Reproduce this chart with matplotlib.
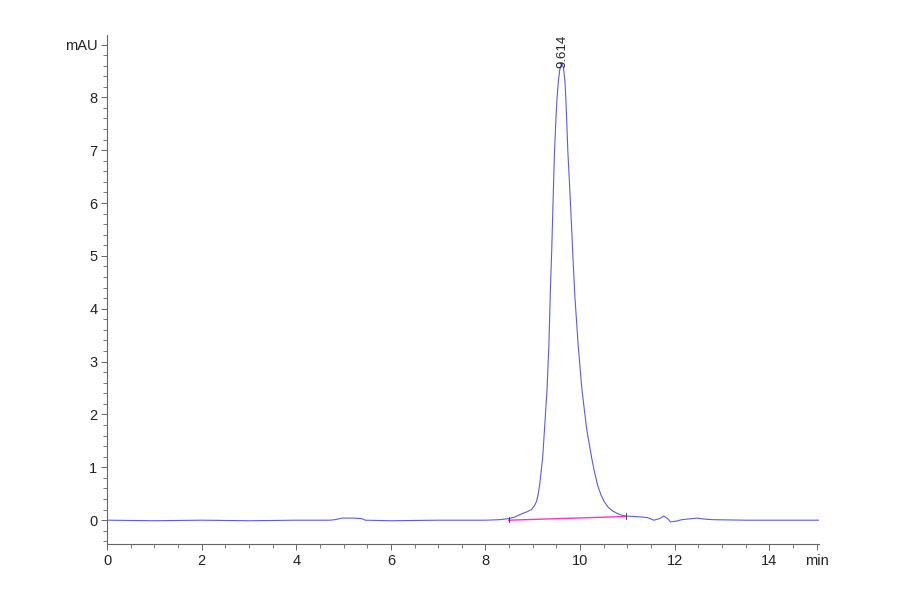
import matplotlib
matplotlib.use("Agg")
import matplotlib.pyplot as plt
from matplotlib.ticker import MultipleLocator, FixedLocator

plt.rcParams['font.family'] = ['Liberation Sans Narrow', 'Liberation Sans', 'DejaVu Sans']

# chromatogram trace (min, mAU)
time = [0.0, 1.0, 2.0, 3.0, 4.0, 4.7, 4.82, 4.97, 5.2, 5.38, 5.46, 6.0, 7.0, 8.0,
        8.3, 8.49, 8.62, 8.76, 8.88, 8.97, 9.04, 9.08, 9.11, 9.15, 9.18, 9.21, 9.25, 9.30,
        9.34, 9.37, 9.40, 9.42, 9.44, 9.46, 9.49, 9.51, 9.54, 9.57, 9.614, 9.65,
        9.68, 9.70, 9.72, 9.74, 9.78, 9.81, 9.85, 9.89, 9.96, 10.04, 10.14, 10.24,
        10.30, 10.37, 10.44, 10.51, 10.59, 10.68, 10.78, 10.86, 10.96, 11.14, 11.30,
        11.42, 11.56, 11.68, 11.77, 11.85, 11.91, 12.02, 12.15, 12.26, 12.47, 12.64,
        12.8, 13.5, 14.0, 15.05]
signal = [0.0, -0.01, 0.0, -0.01, 0.0, 0.0, 0.01, 0.04, 0.04, 0.03, 0.0, -0.01, 0.0, 0.0,
          0.01, 0.03, 0.06, 0.12, 0.16, 0.20, 0.28, 0.36, 0.47, 0.70, 0.95, 1.20, 1.75, 2.46,
          3.30, 4.30, 5.10, 5.74, 6.40, 7.00, 7.60, 7.95, 8.30, 8.52, 8.65, 8.55,
          8.30, 7.95, 7.50, 7.00, 6.30, 5.74, 4.95, 4.23, 3.30, 2.46, 1.72, 1.20,
          0.93, 0.66, 0.48, 0.35, 0.25, 0.18, 0.13, 0.10, 0.08, 0.07, 0.06,
          0.05, 0.0, 0.03, 0.08, 0.03, -0.03, -0.02, 0.01, 0.02, 0.04, 0.02,
          0.01, 0.0, 0.0, 0.0]

# integration baseline of the peak
base_t = [8.49, 10.96]
base_y = [0.0, 0.07]

peak_rt = 9.614
peak_h = 8.65

fig = plt.figure(figsize=(9, 5.94), dpi=100)
ax = fig.add_axes([0.1189, 0.0842, 0.7911, 0.8569])

ax.plot(time, signal, color='#5c5ce0', lw=0.8)
ax.plot(base_t, base_y, color='#ff33cc', lw=1.0)
# small end marks of the baseline
for t, y in zip(base_t, base_y):
    ax.plot([t, t], [y - 0.04, y + 0.06], color='#333333', lw=0.6)

ax.text(peak_rt + 0.02, peak_h - 0.1, f"{peak_rt:.3f}", rotation=90, ha='center',
        va='bottom', fontsize=9.5, color='#222222')

ax.set_xlim(0, 15.05)
ax.set_ylim(-0.45, 9.18)

xt = [0, 2, 4, 6, 8, 10, 12, 14, 15]
ax.xaxis.set_major_locator(FixedLocator(xt))
ax.set_xticklabels([str(v) for v in xt[:-1]] + ['min'])
ax.xaxis.set_minor_locator(MultipleLocator(0.5))
yt = list(range(0, 10))
ax.yaxis.set_major_locator(FixedLocator(yt))
ax.set_yticklabels([str(v) for v in yt[:-1]] + ['mAU'])
ax.yaxis.set_minor_locator(MultipleLocator(0.2))

for s in ['top', 'right']:
    ax.spines[s].set_visible(False)
for s in ['left', 'bottom']:
    ax.spines[s].set_color('#666666')
    ax.spines[s].set_linewidth(0.8)

ax.tick_params(which='major', length=4, width=0.7, color='#666666', labelsize=10.5,
               labelcolor='#222222', pad=3)
ax.tick_params(which='minor', length=3, width=0.6, color='#666666')

fig.savefig('out.png', dpi=100)
